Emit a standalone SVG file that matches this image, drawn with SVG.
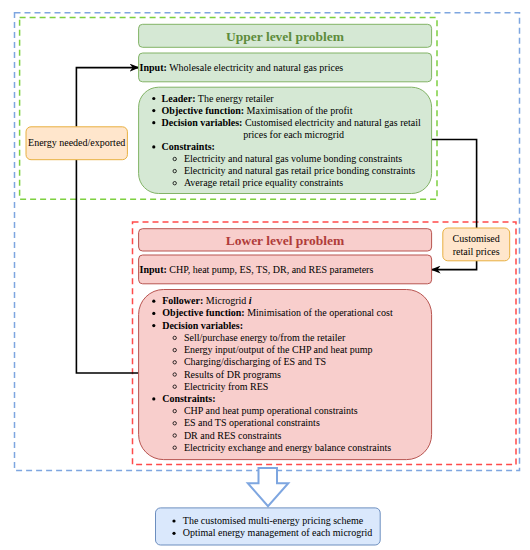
<svg xmlns="http://www.w3.org/2000/svg" width="530" height="550" viewBox="0 0 530 550">
<style>
text{font-family:"Liberation Serif","Times New Roman",serif;font-size:10px;fill:#000}
.b{font-weight:bold}
.title{font-size:13.5px;font-weight:bold;text-anchor:middle}
.g{fill:#d5e8d4;stroke:#82b366;stroke-width:1}
.r{fill:#f8cecc;stroke:#b85450;stroke-width:1}
.o{fill:#ffe6cc;stroke:#e8b040;stroke-width:1}
.bl{fill:#dae8fc;stroke:#6c8ebf;stroke-width:1}
.c{fill:none;stroke:#000;stroke-width:1.6}
.dot{fill:#000}
.sub{fill:none;stroke:#000;stroke-width:0.8}
</style>
<defs>
<marker id="arr" markerUnits="userSpaceOnUse" markerWidth="10" markerHeight="8" refX="9" refY="4" orient="auto">
<path d="M0,0 L10,4 L0,8 L3,4 z" fill="#000"/>
</marker>
<circle id="bd" r="1.6" class="dot"/>
<circle id="bs" r="1.7" class="sub"/>
</defs>

<!-- containers -->
<rect id="outer" x="14.5" y="12.8" width="505" height="457.6" fill="none" stroke="#7ea6e0" stroke-width="1.5" stroke-dasharray="6,4"/>
<rect id="upperContainer" x="19.6" y="17.6" width="417.4" height="181.7" fill="none" stroke="#7ed040" stroke-width="1.5" stroke-dasharray="6,4"/>
<rect id="lowerContainer" x="132.5" y="222" width="383.5" height="242.6" fill="none" stroke="#ff4a4a" stroke-width="1.5" stroke-dasharray="6,4"/>

<g id="connectors">
<path class="c" d="M76.4,126.8 V67.6 H138.6" marker-end="url(#arr)"/>
<path class="c" d="M76.4,159.7 V373 H138.6"/>
<path class="c" d="M431.6,139.5 H476.6 V228"/>
<path class="c" d="M476.6,260.8 V269.6 H431.6" marker-end="url(#arr)"/>
<polygon id="blockArrow" points="258.5,468 277,468 277,483.2 288.3,483.2 268,506.2 247.8,483.2 258.5,483.2" fill="#fff" stroke="#7ea6e0" stroke-width="2" stroke-linejoin="miter"/>
</g>

<g id="upperTitle">
<rect class="g" x="138.6" y="24.3" width="293" height="23" rx="4"/>
<text class="title" x="285" y="40.5" style="fill:#5e8c3c">Upper level problem</text>
</g>

<g id="upperInput">
<rect class="g" x="138.6" y="53" width="293" height="28.8" rx="4"/>
<text x="139.6" y="71"><tspan class="b">Input:</tspan> Wholesale electricity and natural gas prices</text>
</g>

<g id="upperMain">
<rect class="g" x="138.6" y="87.2" width="293" height="106.3" rx="20"/>
<use href="#bd" x="153.8" y="98.5"/>
<text x="161.6" y="101.5"><tspan class="b">Leader:</tspan> The energy retailer</text>
<use href="#bd" x="153.8" y="110.6"/>
<text x="161.6" y="113.6"><tspan class="b">Objective function:</tspan> Maximisation of the profit</text>
<use href="#bd" x="153.8" y="122.7"/>
<text x="161.6" y="125.7"><tspan class="b">Decision variables:</tspan> Customised electricity and natural gas retail</text>
<text x="293.6" y="137.8" text-anchor="middle">prices for each microgrid</text>
<use href="#bd" x="153.8" y="146.9"/>
<text x="161.6" y="149.9" class="b">Constraints:</text>
<use href="#bs" x="174.7" y="159"/>
<text x="183.9" y="162">Electricity and natural gas volume bonding constraints</text>
<use href="#bs" x="174.7" y="171.1"/>
<text x="183.9" y="174.1">Electricity and natural gas retail price bonding constraints</text>
<use href="#bs" x="174.7" y="183.2"/>
<text x="183.9" y="186.2">Average retail price equality constraints</text>
</g>

<g id="energyNeeded">
<rect class="o" x="26" y="126.8" width="101.4" height="32.9" rx="5"/>
<text x="76.7" y="146.3" text-anchor="middle">Energy needed/exported</text>
</g>

<g id="customisedPrices">
<rect class="o" x="442.8" y="228" width="66.9" height="32.8" rx="5"/>
<text x="476.2" y="242.3" text-anchor="middle">Customised</text>
<text x="476.2" y="254.5" text-anchor="middle">retail prices</text>
</g>

<g id="lowerTitle">
<rect class="r" x="138.6" y="228.7" width="293" height="22.3" rx="4"/>
<text class="title" x="285" y="244.6" style="fill:#b03c3a">Lower level problem</text>
</g>

<g id="lowerInput">
<rect class="r" x="138.6" y="255" width="293" height="28.8" rx="4"/>
<text x="139.6" y="273"><tspan class="b">Input:</tspan> CHP, heat pump, ES, TS, DR, and RES parameters</text>
</g>

<g id="lowerMain">
<rect class="r" x="138.6" y="289.5" width="293" height="170.1" rx="25"/>
<use href="#bd" x="153.8" y="301.2"/>
<text x="162.2" y="304.2"><tspan class="b">Follower:</tspan> Microgrid <tspan class="b" font-style="italic">i</tspan></text>
<use href="#bd" x="153.8" y="313.4"/>
<text x="162.2" y="316.4"><tspan class="b">Objective function:</tspan> Minimisation of the operational cost</text>
<use href="#bd" x="153.8" y="325.6"/>
<text x="162.2" y="328.6" class="b">Decision variables:</text>
<use href="#bs" x="174.7" y="337.9"/>
<text x="183.9" y="340.9">Sell/purchase energy to/from the retailer</text>
<use href="#bs" x="174.7" y="350.1"/>
<text x="183.9" y="353.1">Energy input/output of the CHP and heat pump</text>
<use href="#bs" x="174.7" y="362.3"/>
<text x="183.9" y="365.3">Charging/discharging of ES and TS</text>
<use href="#bs" x="174.7" y="374.5"/>
<text x="183.9" y="377.5">Results of DR programs</text>
<use href="#bs" x="174.7" y="386.7"/>
<text x="183.9" y="389.7">Electricity from RES</text>
<use href="#bd" x="153.8" y="398.9"/>
<text x="162.2" y="401.9" class="b">Constraints:</text>
<use href="#bs" x="174.7" y="411.1"/>
<text x="183.9" y="414.1">CHP and heat pump operational constraints</text>
<use href="#bs" x="174.7" y="423.3"/>
<text x="183.9" y="426.3">ES and TS operational constraints</text>
<use href="#bs" x="174.7" y="435.5"/>
<text x="183.9" y="438.5">DR and RES constraints</text>
<use href="#bs" x="174.7" y="447.7"/>
<text x="183.9" y="450.7">Electricity exchange and energy balance constraints</text>
</g>

<g id="results">
<rect class="bl" x="155.5" y="507.9" width="224.7" height="37.1" rx="5"/>
<use href="#bd" x="174" y="521"/>
<text x="182.8" y="524">The customised multi-energy pricing scheme</text>
<use href="#bd" x="174" y="533.3"/>
<text x="182.8" y="536.3">Optimal energy management of each microgrid</text>
</g>
</svg>
